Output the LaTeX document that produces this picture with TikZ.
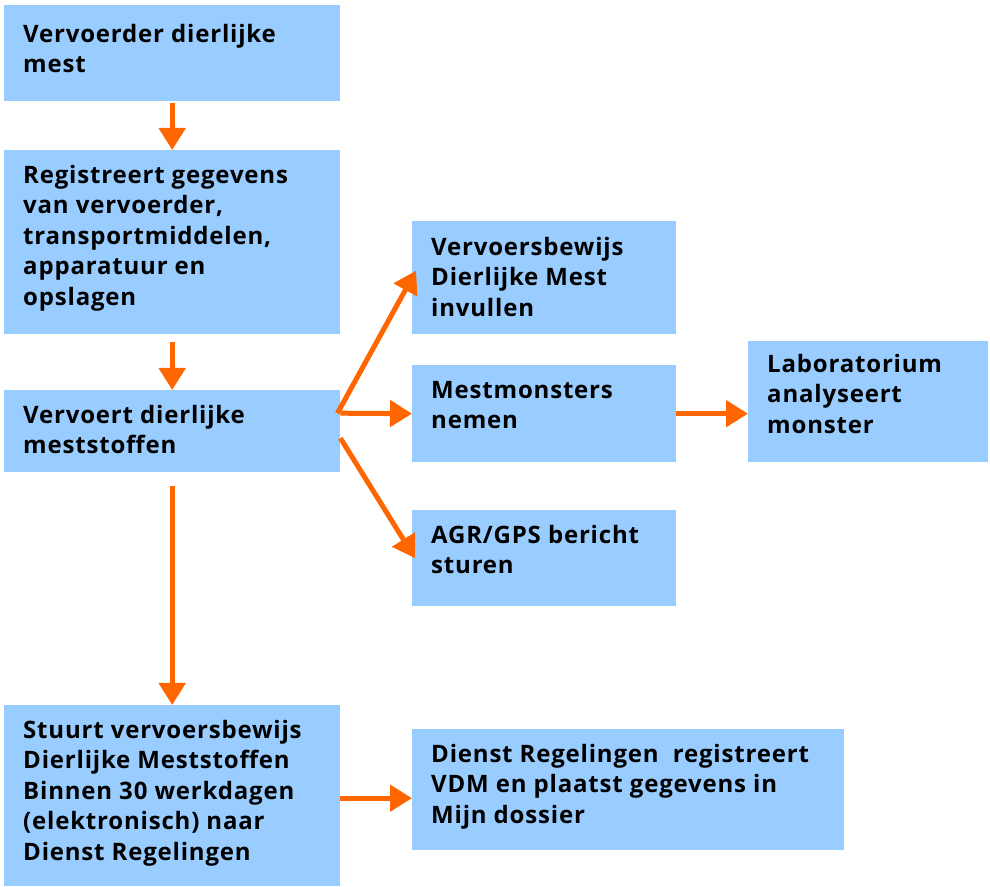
\documentclass[tikz,border=0pt]{standalone}
\usepackage{fontspec}
\setmainfont{Open Sans}[LetterSpace=3.4]
\usetikzlibrary{arrows.meta,calc}
\definecolor{boxblue}{HTML}{99CCFF}
\definecolor{arrorange}{HTML}{FF6600}
% width, height, first-baseline offset, text
\newcommand{\boxtxt}[4]{\parbox[c][#2][t]{#1}{\raggedright\leftskip=19pt\rule{0pt}{#3}#4}}
\begin{document}
\begin{tikzpicture}[x=1pt,y=1pt,
  box/.style={fill=boxblue, anchor=north west, inner sep=0pt,
    font=\fontsize{24}{30.5}\selectfont\bfseries},
  arr/.style={draw=arrorange, line width=5pt, -{Triangle[length=22pt,width=26pt]}}]
\useasboundingbox (0,0) rectangle (990,886);
\node[box] (A) at (4,881) {\boxtxt{336pt}{96pt}{37pt}{Vervoerder dierlijke\\mest}};
\node[box] (B) at (4,736) {\boxtxt{336pt}{184pt}{33pt}{Registreert gegevens\\van vervoerder,\\transportmiddelen,\\apparatuur en\\opslagen}};
\node[box] (C) at (4,496) {\boxtxt{336pt}{82pt}{33pt}{Vervoert dierlijke\\meststoffen}};
\node[box] (D) at (412,665) {\boxtxt{264pt}{113pt}{34pt}{Vervoersbewijs\\Dierlijke Mest\\invullen}};
\node[box] (E) at (412,521) {\boxtxt{264pt}{97pt}{33pt}{Mestmonsters\\nemen}};
\node[box] (F) at (412,376) {\boxtxt{264pt}{96pt}{33pt}{AGR/GPS bericht\\sturen}};
\node[box] (G) at (748,545) {\boxtxt{240pt}{121pt}{31pt}{Laboratorium\\analyseert\\monster}};
\node[box] (H) at (4,181) {\boxtxt{336pt}{181pt}{33pt}{Stuurt vervoersbewijs\\Dierlijke Meststoffen\\Binnen 30 werkdagen\\(elektronisch) naar\\Dienst Regelingen}};
\node[box] (I) at (412,157) {\boxtxt{432pt}{121pt}{33pt}{Dienst Regelingen\ \ registreert\\VDM en plaatst gegevens in\\Mijn dossier}};
\draw[arr] ([yshift=-2pt]A.south) -- (B.north);
\draw[arr] ([yshift=-8pt]B.south) -- (C.north);
\draw[arr] ([yshift=-14pt]C.south) -- (H.north);
\draw[arr] ([xshift=-3pt,yshift=18pt]C.east) -- ([xshift=4pt,yshift=7pt]D.west);
\draw[arr] ([yshift=18pt]C.east) -- (E.west);
\draw[arr] ([yshift=-7pt]C.east) -- ([xshift=3pt]F.west);
\draw[arr] (E.east) -- (E.east -| G.west);
\draw[arr] ([yshift=-2.5pt]H.east) -- ([yshift=-2.5pt]H.east -| I.west);
\end{tikzpicture}
\end{document}
